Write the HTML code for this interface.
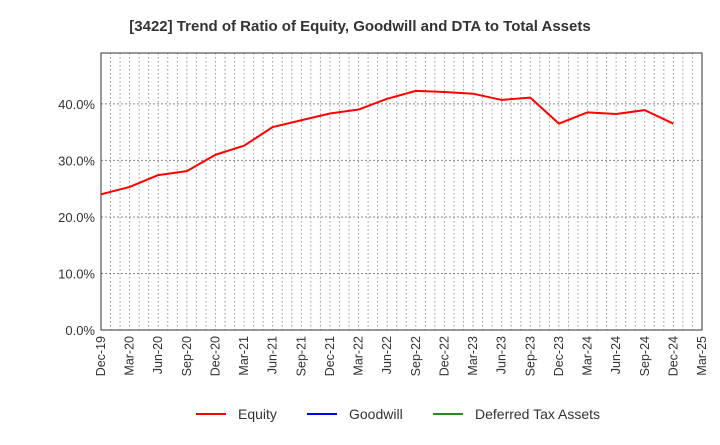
<!DOCTYPE html>
<html><head><meta charset="utf-8"><style>
body{margin:0;background:#fff;font-family:"Liberation Sans",Arial,sans-serif}
svg text{font-family:"Liberation Sans",Arial,sans-serif}
</style></head><body>
<svg id="chart" width="720" height="440" xmlns="http://www.w3.org/2000/svg">
<text x="360" y="31" text-anchor="middle" font-size="15" font-weight="bold" fill="#333">[3422]  Trend of Ratio of Equity, Goodwill and DTA to Total Assets</text>
<g id="grid"></g><g id="axes"></g><g id="series"></g>
<g>
<g><line x1="196" y1="414" x2="226" y2="414" stroke="#ff0000" stroke-width="2"/><text x="238" y="419" font-size="14" fill="#333">Equity</text></g>
<g><line x1="307" y1="414" x2="337" y2="414" stroke="#0000ff" stroke-width="2"/><text x="349" y="419" font-size="14" fill="#333">Goodwill</text></g>
<g><line x1="433" y1="414" x2="463" y2="414" stroke="#228b22" stroke-width="2"/><text x="475" y="419" font-size="14" fill="#333">Deferred Tax Assets</text></g>
</g>
</svg>
<script>
const tickLabels=["Dec-19","Mar-20","Jun-20","Sep-20","Dec-20","Mar-21","Jun-21","Sep-21","Dec-21","Mar-22","Jun-22","Sep-22","Dec-22","Mar-23","Jun-23","Sep-23","Dec-23","Mar-24","Jun-24","Sep-24","Dec-24","Mar-25"];
const yTicks=[0,10,20,30,40];
const equity=[24.0,25.3,27.4,28.1,31.0,32.6,35.9,37.1,38.3,39.0,40.9,42.3,42.1,41.8,40.7,41.1,36.5,38.5,38.2,38.9,36.5];
const NS="http://www.w3.org/2000/svg";
const L=101,R=702,T=53,B=330,YMAX=49;
const nQ=tickLabels.length-1;
function xq(i){return L+(R-L)*i/nQ;}
function xm(m){return L+(R-L)*m/(nQ*3);}
function y(v){return B-(B-T)*v/YMAX;}
function mk(tag,attrs,parent){const e=document.createElementNS(NS,tag);for(const k in attrs)e.setAttribute(k,attrs[k]);parent.appendChild(e);return e;}
const grid=document.getElementById('grid'),axes=document.getElementById('axes'),ser=document.getElementById('series');
for(let m=1;m<nQ*3;m++){
 const l=mk('line',{x1:xm(m),x2:xm(m),y1:T,y2:B,stroke:'#999','stroke-width':1,'stroke-dasharray':'1.5,2.5'},grid);
 
 
}
yTicks.forEach(v=>{
 if(v>0){const l=mk('line',{x1:L,x2:R,y1:y(v),y2:y(v),stroke:'#888','stroke-width':1,'stroke-dasharray':'2,2'},grid);
 
 }
 const t=mk('text',{x:L-6,y:y(v)+5,'text-anchor':'end','font-size':13,fill:'#333'},axes);
 t.textContent=v.toFixed(1)+'%';
 
 
});
const frame=mk('rect',{x:L,y:T,width:R-L,height:B-T,fill:'none',stroke:'#333','stroke-width':1},axes);


tickLabels.forEach((s,i)=>{
 const x=xq(i);
 const t=mk('text',{transform:`translate(${x+4},336) rotate(-90)`,'text-anchor':'end','font-size':12.5,fill:'#333'},axes);
 t.textContent=s;
 
 
});
const p=mk('polyline',{points:equity.map((v,i)=>xq(i)+','+y(v)).join(' '),fill:'none',stroke:'#ff0000','stroke-width':2,'stroke-linejoin':'round'},ser);


</script>
</body></html>
